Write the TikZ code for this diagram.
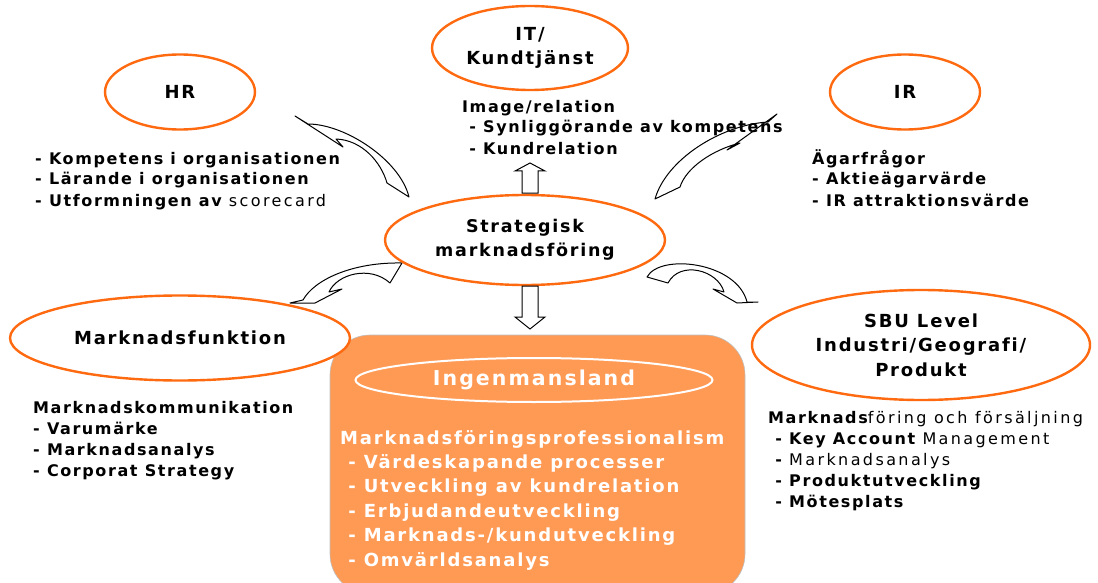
\documentclass[tikz,border=0pt]{standalone}
\usepackage{fontspec}
\setmainfont{DejaVu Sans}
\newfontfamily\widefont[LetterSpace=10,Ligatures=NoCommon]{DejaVu Sans}
\newfontfamily\litefont[LetterSpace=15,Ligatures=NoCommon]{DejaVu Sans}
\usetikzlibrary{shapes.geometric}
\definecolor{ringorange}{HTML}{FF6A10}
\definecolor{boxorange}{HTML}{FF9A55}
\newcommand{\lite}[1]{{\litefont\mdseries #1}}
\begin{document}
\begin{tikzpicture}[x=1pt,y=-1pt,
  ring/.style={ellipse,draw=ringorange,line width=2.4pt,fill=white,inner sep=0pt,
    font=\widefont\bfseries\fontsize{18}{24}\selectfont,align=center},
  % multi-line blocks are placed by the baseline of their last line
  txtblock/.style={anchor=base west,inner sep=0pt,align=left,
    font=\widefont\bfseries\fontsize{16}{21}\selectfont},
  boxtxt/.style={anchor=base west,inner sep=0pt,align=left,text=white,
    font=\widefont\bfseries\fontsize{18}{24.4}\selectfont},
  bendarrow/.style={draw=black,line width=1pt,line join=round},
  blockarrow/.style={draw=black,line width=1pt,fill=white}]
\useasboundingbox (0,0) rectangle (1098,583);

% curved arrows around the central ellipse
\draw[bendarrow] (295,116) -- (308,124) .. controls (345,124) and (400,160) .. (409,197)
  -- (387,183) .. controls (381,162) and (362,140) .. (336,139) -- (343,147) -- cycle;
\draw[bendarrow] (777,114) -- (727,150) -- (740,143) .. controls (712,150) and (686,168) .. (680,187)
  -- (655,199) .. controls (666,160) and (720,125) .. (768,122) -- cycle;
\draw[bendarrow] (290,303) -- (315,303) -- (342,289) -- (329,292)
  .. controls (337,274) and (370,265) .. (390,283) -- (402,263)
  .. controls (352,262) and (314,280) .. (303,300) -- cycle;
\draw[bendarrow] (647,277) .. controls (660,253) and (737,262) .. (747,302) -- (758,302)
  -- (737,303) -- (713,289) -- (724,292) .. controls (718,270) and (680,260) .. (668,283) -- cycle;

% central orange panel
\draw[gray!50,fill=boxorange,rounded corners=40pt,line width=0.6pt]
  (330,335) rectangle (745,594);
\node[ellipse,draw=white,line width=2pt,minimum width=357pt,minimum height=44pt,
  inner sep=0pt,text=white,font=\widefont\bfseries\fontsize{20.5}{24}\selectfont]
  (ingen) at (534,380) {Ingenmansland};
\node[boxtxt] (prof) at (340,566) {Marknadsföringsprofessionalism\\
\ - Värdeskapande processer\\
\ - Utveckling av kundrelation\\
\ - Erbjudandeutveckling\\
\ - Marknads-/kundutveckling\\
\ - Omvärldsanalys};

% ellipses
\node[ring,minimum width=150pt,minimum height=75pt] (hr) at (180,92) {HR};
\node[ring,minimum width=196pt,minimum height=84pt] (it) at (530,48) {IT/\\Kundtjänst};
\node[ring,minimum width=150pt,minimum height=75pt] (ir) at (905,92) {IR};
\node[ring,minimum width=280pt,minimum height=90pt,
  font=\widefont\bfseries\fontsize{17.5}{24}\selectfont] (strat) at (525,240)
  {Strategisk\\marknadsföring};
\node[ring,minimum width=340pt,minimum height=85pt] (mf) at (180,338) {Marknadsfunktion};
\node[ring,minimum width=338pt,minimum height=110pt,
  font=\widefont\bfseries\fontsize{18}{24.5}\selectfont]
  (sbu) at (921,345) {SBU Level\\Industri/Geografi/\\Produkt};

% straight block arrows
\draw[blockarrow] (522,193) -- (522,171) -- (515,171) -- (530,163) -- (545,171)
  -- (538,171) -- (538,193) -- cycle;
\draw[blockarrow] (522,286) -- (522,317) -- (515,317) -- (530,329) -- (545,317)
  -- (538,317) -- (538,286) -- cycle;

% text blocks
\node[txtblock] (hrtxt) at (35,206) {- Kompetens i organisationen\\
- Lärande i organisationen\\
- Utformningen av \lite{scorecard}};
\node[txtblock] (ittxt) at (462,154) {Image/relation\\
\ - Synliggörande av kompetens\\
\ - Kundrelation};
\node[txtblock] (irtxt) at (812,206) {Ägarfrågor\\
- Aktieägarvärde\\
- IR attraktionsvärde};
\node[txtblock] (mftxt) at (33,476) {Marknadskommunikation\\
- Varumärke\\
- Marknadsanalys\\
- Corporat Strategy};
\node[txtblock] (sbutxt) at (768,507) {Marknads\lite{föring och försäljning}\\
\ - Key Account \lite{Management}\\
\ - \lite{Marknadsanalys}\\
\ - Produktutveckling\\
\ - Mötesplats};
\end{tikzpicture}
\end{document}
